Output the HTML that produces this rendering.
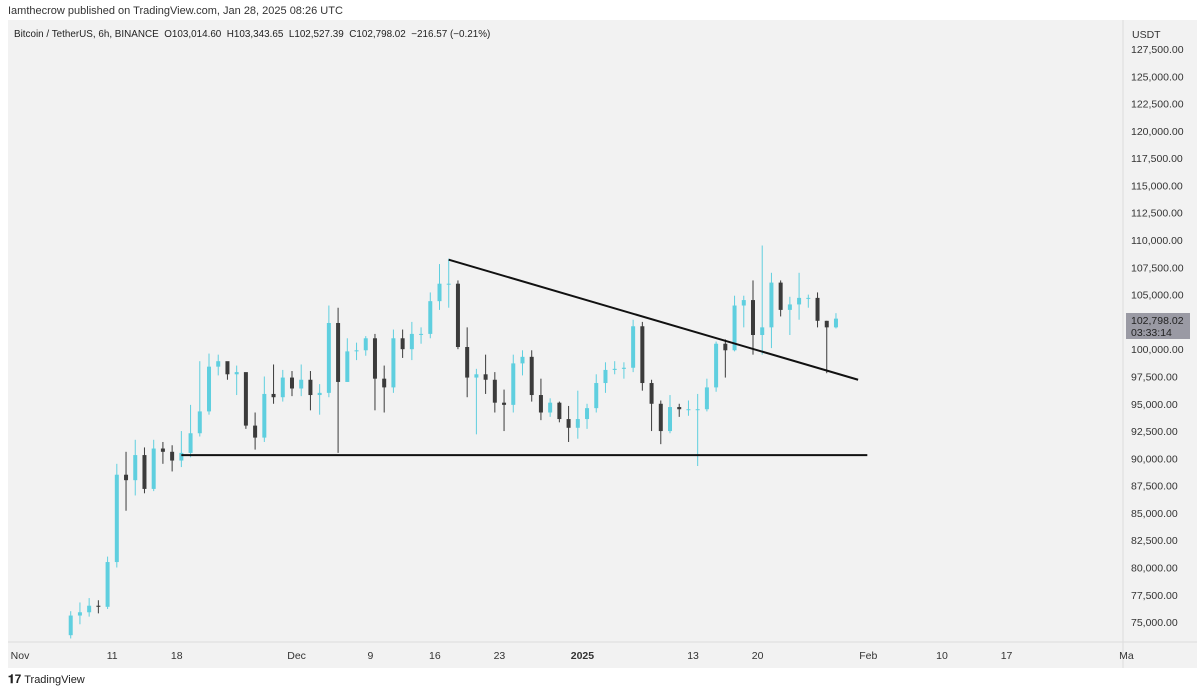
<!DOCTYPE html>
<html><head><meta charset="utf-8"><style>
body{margin:0;width:1200px;height:692px;background:#fff;font-family:"Liberation Sans",sans-serif;overflow:hidden;position:relative}
.t{position:absolute;white-space:nowrap}
</style></head><body>
<div class="t" style="left:8px;top:5px;font-size:11px;color:#333">Iamthecrow published on TradingView.com, Jan 28, 2025 08:26 UTC</div>
<svg id="c" width="1200" height="692" style="position:absolute;left:0;top:0">
<rect x="8" y="20" width="1189" height="648" fill="#f2f2f2"/>
<line x1="1123" y1="20" x2="1123" y2="668" stroke="#dcdcdc"/>
<line x1="8" y1="642" x2="1197" y2="642" stroke="#dcdcdc"/>
<text x="14" y="37" font-size="9.9" fill="#222" xml:space="preserve">Bitcoin / TetherUS, 6h, BINANCE  O103,014.60  H103,343.65  L102,527.39  C102,798.02  −216.57 (−0.21%)</text>
<text x="1132" y="38" font-size="10.5" fill="#333">USDT</text>
<g id="yax"></g><g id="xax"></g><g id="candles"></g><g id="lines"></g>
<rect x="1126" y="313" width="64" height="26" fill="#9a9aa4"/>
<text x="1131" y="324" font-size="10.5" fill="#222">102,798.02</text>
<text x="1131" y="336" font-size="10.5" fill="#222">03:33:14</text>
</svg>
<div class="t" style="left:8px;top:672px;font-size:11px;color:#222"><b style="font-size:12px">𝟏7</b> TradingView</div>
<script>
const yTicks=[127500,125000,122500,120000,117500,115000,112500,110000,107500,105000,100000,97500,95000,92500,90000,87500,85000,82500,80000,77500,75000];
const xTickLabels=["Nov","11","18","Dec","9","16","23","2025","13","20","Feb","10","17","Ma"];
const xTickDays=[0,10,17,30,38,45,52,61,73,80,92,100,107,120];
const startDay=5;
const closes=[75600,75900,76500,76400,80500,88500,88000,90300,87200,90900,90600,89800,90500,92300,94300,98400,98900,97700,97900,93000,91900,95900,95600,97400,96400,
97200,95800,96000,102400,97000,99800,99900,101000,97300,96500,101000,100000,101400,101400,104400,106000,106000,100200,97400,97700,97200,95100,94900,98700,99300,95800,94200,95100,93600,92800,93600,
94600,96900,98100,98200,98300,102100,96900,95000,92500,94700,94500,94500,94500,96500,100500,99900,104000,104500,101300,102000,106100,103600,104100,104700,104700,102600,102000,102800];
const highs=[76000,76800,77200,77000,81000,89500,90600,91700,91000,91700,91500,91200,92500,94900,98900,99600,99500,98800,98500,95000,94200,97500,98600,98100,98000,
98600,98000,96800,104000,103800,101000,100600,101200,101400,98500,101800,101800,102500,102000,105200,107800,108300,106300,102000,98200,99500,97900,96300,99500,99900,99900,97300,95500,95200,94800,96200,
95000,97700,98800,98900,98800,102700,102500,97200,95300,95800,95000,95300,95900,97300,100700,100900,104900,104900,106300,109500,107000,106300,104800,107000,105000,105200,102600,103300];
const lows=[73500,74800,75500,75800,76200,80000,85200,86600,86800,87000,89500,88800,89200,90100,92000,94000,97600,97200,95800,92700,90800,91500,95000,95200,95700,
95700,94400,94000,95600,90500,97000,99000,99400,94400,94200,96000,99200,99000,100500,101000,103600,103800,100000,95600,92200,95900,94200,92500,94200,97600,95200,93500,93800,93300,91500,91800,
92700,94200,96000,97700,97300,97900,96200,92500,91300,92300,93800,93900,89300,94300,96100,97400,99800,102000,99500,99500,100100,103000,101300,102700,103800,102000,97800,101900];
const openFirst=73800;
const supportLine=[[17.5,90300],[91.9,90300]];
const trendLine=[[46.5,108200],[90.9,97200]];
const NS="http://www.w3.org/2000/svg";
function yS(p){return 49+(127500-p)/2500*27.29;}
function xS(d){return 20+d*9.22;}
function mk(t,a,parent){const e=document.createElementNS(NS,t);for(const k in a)e.setAttribute(k,a[k]);document.getElementById(parent).appendChild(e);return e;}
yTicks.forEach(v=>{const e=mk('text',{x:1131,y:yS(v)+4,'font-size':10.5,fill:'#333'},'yax');


e.textContent=v.toLocaleString('en-US',{minimumFractionDigits:2});});
xTickLabels.forEach((l,i)=>{const e=mk('text',{x:xS(xTickDays[i]),y:659,'font-size':10.5,fill:'#333','text-anchor':'middle','font-weight':l==='2025'?'bold':'normal'},'xax');


e.textContent=l;});
closes.forEach((c,i)=>{const o=i===0?openFirst:closes[i-1];const x=xS(startDay+i+0.5);const up=c>=o;const col=up?'#5fcfdf':'#3b3b3b';
const w=mk('line',{x1:x,x2:x,y1:yS(highs[i]),y2:yS(lows[i]),stroke:col,'stroke-width':1},'candles');


const top=yS(Math.max(o,c)),bot=yS(Math.min(o,c));
const b=mk('rect',{x:x-2,y:top,width:4,height:Math.max(1,bot-top),fill:col},'candles');

});
[[supportLine,'support-line'],[trendLine,'descending-trendline']].forEach(([L,n])=>{const e=mk('line',{x1:xS(L[0][0]),y1:yS(L[0][1]),x2:xS(L[1][0]),y2:yS(L[1][1]),stroke:'#111','stroke-width':2},'lines');

});
</script>
</body></html>
